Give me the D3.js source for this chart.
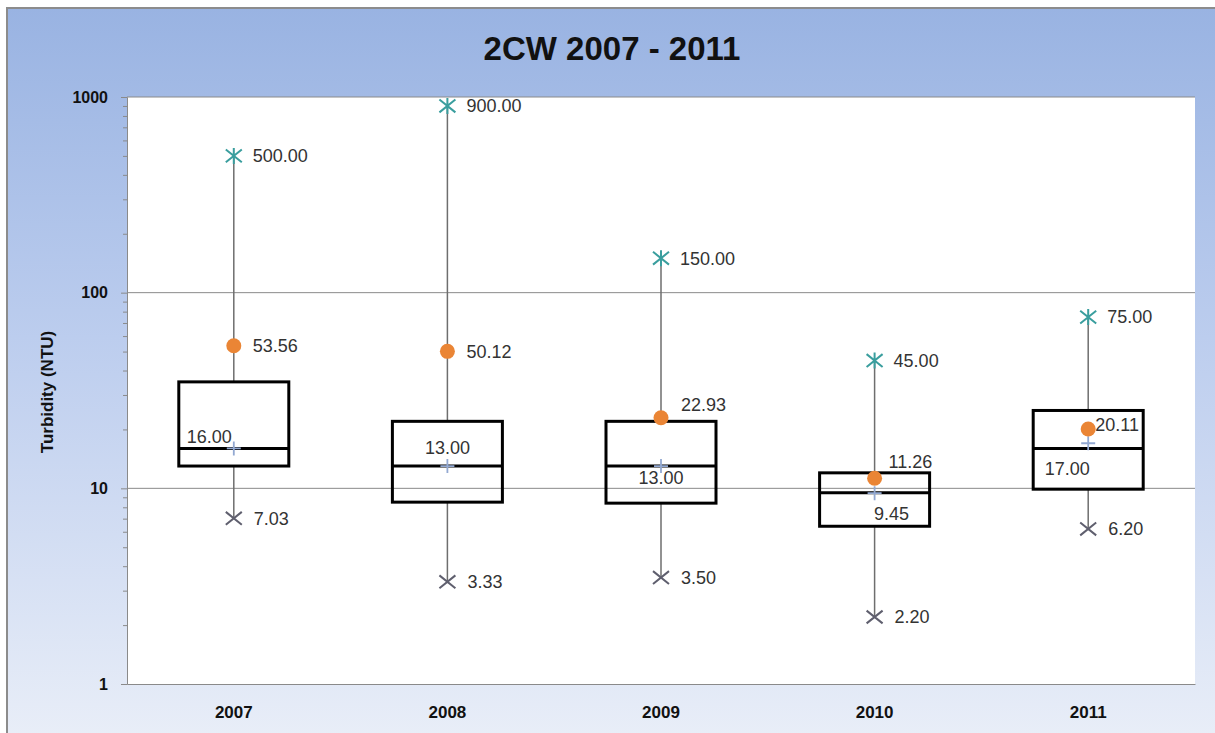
<!DOCTYPE html>
<html>
<head>
<meta charset="utf-8">
<script src="https://cdn.jsdelivr.net/npm/d3@7"></script>
<style>
  html, body { margin: 0; padding: 0; background: #fff; }
  svg { display: block; font-family: 'Liberation Sans', Arial, sans-serif; }
</style>
</head>
<body>
<svg id="chart" width="1215" height="733"></svg>
<script>
// data
const years = ['2007', '2008', '2009', '2010', '2011'];
const maxVals = [500, 900, 150, 45, 75];
const meanVals = [53.56, 50.12, 22.93, 11.26, 20.11];
const q3Vals = [35, 22, 22, 12, 25];
const boxMidVals = [16, 13, 13, 9.5, 16];
const q1Vals = [13, 8.5, 8.4, 6.4, 9.9];
const medianVals = [16.00, 13.00, 13.00, 9.45, 17.00];
const minVals = [7.03, 3.33, 3.50, 2.20, 6.20];
const yTicks = [1, 10, 100, 1000];

// label placement (dx, dy, anchor) per year
const meanLbl = [[19, 0, 'start'], [19, 0, 'start'], [20, -13, 'start'], [14, -17, 'start'], [7, -4, 'start']];
const medLbl = [[-2, -12, 'end'], [0, -18, 'middle'], [0, 12, 'middle'], [17, 21, 'middle'], [-21, 25, 'middle']];

const W = 1215, H = 733;
const plot = { left: 127, right: 1195, top: 97, bottom: 684 };

const svg = d3.select('#chart');
const defs = svg.append('defs');
const bg = defs.append('linearGradient').attr('id', 'bg')
  .attr('x1', 0).attr('y1', 0).attr('x2', 0).attr('y2', 1);
bg.append('stop').attr('offset', '0%').attr('stop-color', '#99b3e2');
bg.append('stop').attr('offset', '45%').attr('stop-color', '#bccdee');
bg.append('stop').attr('offset', '100%').attr('stop-color', '#e9eef8');

svg.append('rect').attr('x', 7).attr('y', 8).attr('width', W).attr('height', H)
  .attr('fill', 'url(#bg)').attr('stroke', '#8c8c8c').attr('stroke-width', 2);

svg.append('rect')
  .attr('x', plot.left).attr('y', plot.top)
  .attr('width', plot.right - plot.left).attr('height', plot.bottom - plot.top)
  .attr('fill', '#fff');

const x = d3.scaleBand().domain(years).range([plot.left, plot.right]);
const y = d3.scaleLog().domain([1, 1000]).range([plot.bottom, plot.top]);
const cx = d => x(d) + x.bandwidth() / 2;
const boxW = x.bandwidth() * 0.515;

// gridlines
svg.append('g').selectAll('line').data(yTicks.slice(1)).enter().append('line')
  .attr('x1', plot.left).attr('x2', plot.right)
  .attr('y1', d => y(d)).attr('y2', d => y(d))
  .attr('stroke', '#8a8a8a').attr('stroke-width', 1);

// y axis with minor ticks
const minors = [];
[1, 10, 100].forEach(b => { for (let k = 2; k <= 9; k++) minors.push(b * k); });
svg.append('g').attr('transform', `translate(${plot.left},0)`)
  .call(d3.axisLeft(y).tickValues(minors).tickSize(4).tickFormat(''))
  .call(g => g.select('.domain').remove())
  .call(g => g.selectAll('line').attr('stroke', '#8a8a8a'));
const yAxis = svg.append('g').attr('transform', `translate(${plot.left},0)`)
  .call(d3.axisLeft(y).tickValues(yTicks).tickSize(6).tickPadding(13).tickFormat(d3.format('d')));
yAxis.select('.domain').attr('stroke', '#8a8a8a');
yAxis.selectAll('line').attr('stroke', '#8a8a8a');
yAxis.selectAll('text').attr('fill', '#111').style('font-size', '16px').style('font-weight', '700')
  .style('font-family', "'Liberation Sans', Arial, sans-serif");

// x axis
const xAxis = svg.append('g').attr('transform', `translate(0,${plot.bottom})`)
  .call(d3.axisBottom(x).tickSize(0).tickPadding(22));
xAxis.select('.domain').attr('stroke', '#8a8a8a');
xAxis.selectAll('text').attr('fill', '#111').style('font-size', '17px').style('font-weight', '700')
  .style('font-family', "'Liberation Sans Narrow', 'Liberation Sans', Arial, sans-serif");

// title and axis title
svg.append('text').attr('x', 612).attr('y', 60).attr('text-anchor', 'middle')
  .style('font-size', '33px').style('font-weight', '700').attr('fill', '#111')
  .text('2CW 2007 - 2011');
svg.append('text').attr('transform', 'translate(53,392) rotate(-90)').attr('text-anchor', 'middle')
  .style('font-size', '17px').style('font-weight', '700').attr('fill', '#111')
  .text('Turbidity (NTU)');

const rows = years.map((yr, i) => ({
  yr, i, max: maxVals[i], mean: meanVals[i], q3: q3Vals[i], mid: boxMidVals[i],
  q1: q1Vals[i], med: medianVals[i], min: minVals[i],
}));

const g = svg.append('g');

// whiskers
g.selectAll('.wh-up').data(rows).enter().append('line')
  .attr('x1', d => cx(d.yr)).attr('x2', d => cx(d.yr))
  .attr('y1', d => y(d.q3)).attr('y2', d => y(d.max))
  .attr('stroke', '#6e6e6e').attr('stroke-width', 1.5);
g.selectAll('.wh-dn').data(rows).enter().append('line')
  .attr('x1', d => cx(d.yr)).attr('x2', d => cx(d.yr))
  .attr('y1', d => y(d.q1)).attr('y2', d => y(d.min))
  .attr('stroke', '#6e6e6e').attr('stroke-width', 1.5);

// boxes
g.selectAll('.box').data(rows).enter().append('rect')
  .attr('x', d => cx(d.yr) - boxW / 2).attr('width', boxW)
  .attr('y', d => y(d.q3)).attr('height', d => y(d.q1) - y(d.q3))
  .attr('fill', 'none').attr('stroke', '#000').attr('stroke-width', 3);
g.selectAll('.mid').data(rows).enter().append('line')
  .attr('x1', d => cx(d.yr) - boxW / 2).attr('x2', d => cx(d.yr) + boxW / 2)
  .attr('y1', d => y(d.mid)).attr('y2', d => y(d.mid))
  .attr('stroke', '#000').attr('stroke-width', 3);

// max markers: asterisk
const s = 8;
rows.forEach(d => {
  const px = cx(d.yr), py = y(d.max);
  const p = `M${px - s},${py - s * 0.8}L${px + s},${py + s * 0.8}M${px - s},${py + s * 0.8}L${px + s},${py - s * 0.8}M${px},${py - s}L${px},${py + s}`;
  g.append('path').attr('d', p).attr('stroke', '#3a9e9e').attr('stroke-width', 2).attr('fill', 'none');
});
// min markers: x
rows.forEach(d => {
  const px = cx(d.yr), py = y(d.min);
  const p = `M${px - s},${py - s * 0.8}L${px + s},${py + s * 0.8}M${px - s},${py + s * 0.8}L${px + s},${py - s * 0.8}`;
  g.append('path').attr('d', p).attr('stroke', '#5f5f6e').attr('stroke-width', 2).attr('fill', 'none');
});
// median markers: plus
rows.forEach(d => {
  const px = cx(d.yr), py = y(d.med);
  g.append('path').attr('d', `M${px - 7},${py}L${px + 7},${py}M${px},${py - 7}L${px},${py + 7}`)
    .attr('stroke', '#93a9d2').attr('stroke-width', 1.8).attr('fill', 'none');
});
// mean markers
g.selectAll('.mean').data(rows).enter().append('circle')
  .attr('cx', d => cx(d.yr)).attr('cy', d => y(d.mean)).attr('r', 7.5)
  .attr('fill', '#ea8535');

// labels
const lbl = (px, py, txt, anchor) => g.append('text')
  .attr('x', px).attr('y', py).attr('dy', '0.35em').attr('text-anchor', anchor)
  .style('font-size', '18px').attr('fill', '#333').text(txt);
const f2 = d3.format('.2f');
rows.forEach(d => {
  const px = cx(d.yr);
  lbl(px + 19, y(d.max), f2(d.max), 'start');
  lbl(px + 20, y(d.min), f2(d.min), 'start');
  const m = meanLbl[d.i];
  lbl(px + m[0], y(d.mean) + m[1], f2(d.mean), m[2]);
  const md = medLbl[d.i];
  lbl(px + md[0], y(d.med) + md[1], f2(d.med), md[2]);
});
</script>
</body>
</html>
